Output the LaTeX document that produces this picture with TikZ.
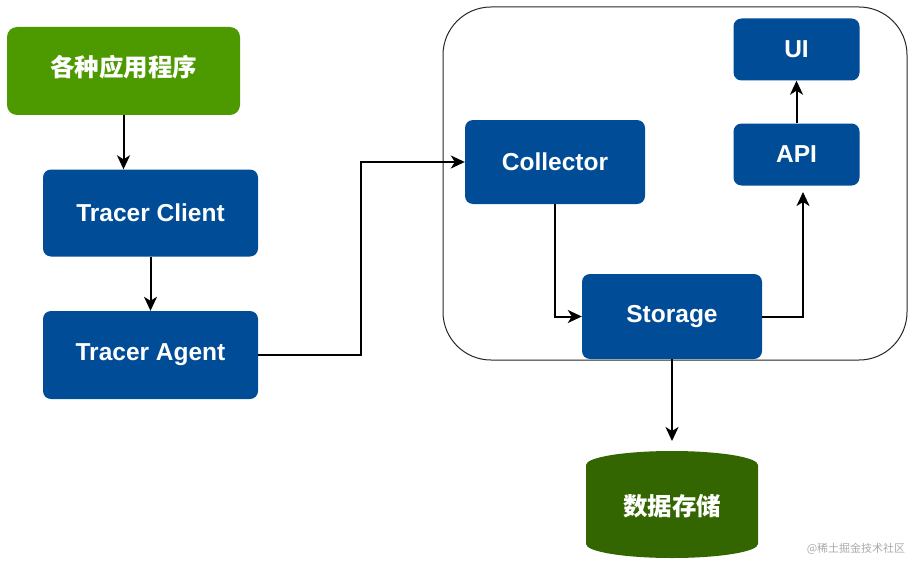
\documentclass[tikz,border=0pt]{standalone}
\usepackage{fontspec}
\setmainfont{Liberation Sans}
\newfontfamily\cjk{Noto Sans CJK SC}
\usetikzlibrary{arrows.meta}
\definecolor{boxblue}{RGB}{0,76,151}
\definecolor{appgreen}{RGB}{77,153,0}
\definecolor{dbgreen}{RGB}{51,102,0}
\definecolor{wmgray}{RGB}{170,170,170}
\begin{document}
\begin{tikzpicture}[x=1pt,y=-1pt,
  bluebox/.style={fill=boxblue, rounded corners=8pt, text=white, inner sep=0pt,
    font=\fontsize{24.5}{28}\selectfont\bfseries},
  appbox/.style={fill=appgreen, rounded corners=10pt, inner sep=0pt},
  cjklabel/.style={text=white, inner sep=0pt, font=\cjk\fontsize{24.5}{28}\selectfont\bfseries},
  conn/.style={line width=2pt, -{Stealth[length=14pt,width=13pt,inset=4pt]}}
]
\useasboundingbox (0,0) rectangle (909,567);
% container
\node[draw=black!85, line width=1pt, rounded corners=48pt, minimum width=464pt,
      minimum height=353pt, inner sep=0pt] (sys) at (675,183.5) {};
% left column
\node[appbox, minimum width=233pt, minimum height=88pt] (app) at (123.5,71) {};
\node[cjklabel] (applabel) at (123.5,67) {各种应用程序};
\node[bluebox, minimum width=215pt, minimum height=87pt] (client) at (150.5,213) {Tracer Client};
\node[bluebox, minimum width=215pt, minimum height=88pt] (agent) at (150.5,355) {\raisebox{-3pt}{Tracer Agent}};
% inside
\node[bluebox, minimum width=180pt, minimum height=84pt] (collector) at (555,162) {Collector};
\node[bluebox, minimum width=180pt, minimum height=85pt] (storage) at (672,316.5) {Storage};
\node[bluebox, minimum width=126pt, minimum height=62pt] (api) at (796.5,154.5) {API};
\node[bluebox, minimum width=126pt, minimum height=62pt] (ui) at (796.5,49.5) {UI};
% database cylinder
\fill[dbgreen] (586,465) -- (586,544) arc[start angle=180, end angle=360, x radius=86pt, y radius=14pt]
  -- (758,465) arc[start angle=0, end angle=180, x radius=86pt, y radius=14pt] -- cycle;
\node[cjklabel] (db) at (672,506) {数据存储};
% watermark
\node[text=wmgray, font=\cjk\fontsize{11}{13}\selectfont, inner sep=0pt] (wm) at (856,549) {@稀土掘金技术社区};
% coordinates
\coordinate (bend1) at (361,355);
\coordinate (apiin) at (803,192);
\coordinate (dbtop) at (672,441);
% connectors
\draw[conn] (app.south) -- (app.south |- client.north);
\draw[conn] (client.south) -- (agent.north);
\draw[conn] (agent.east) -- (bend1) |- (collector.west);
\draw[conn] (collector.south) |- (storage.west);
\draw[conn] (storage.east) -| (apiin);
\draw[conn] (api.north) -- (ui.south);
\draw[conn] (storage.south) -- (dbtop);
\end{tikzpicture}
\end{document}
